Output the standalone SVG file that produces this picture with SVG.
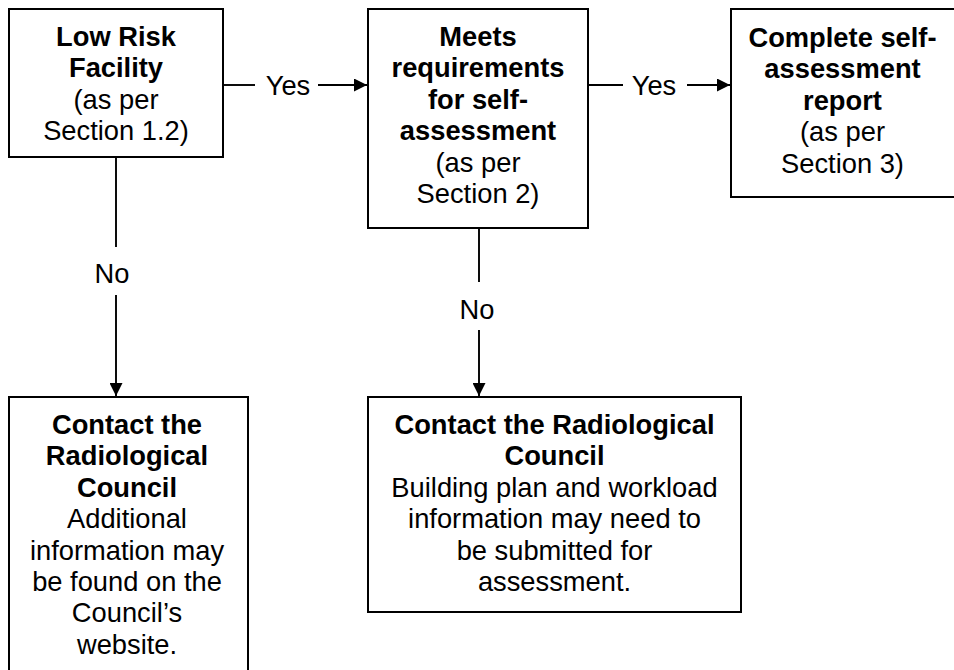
<svg xmlns="http://www.w3.org/2000/svg" width="954" height="670" viewBox="0 0 954 670">
  <style>
    .box { fill: #ffffff; stroke: #000000; stroke-width: 2; }
    .t { font-family: "Liberation Sans", Arial, sans-serif; font-size: 27.3px; fill: #000000; text-anchor: middle; }
    .b { font-weight: bold; }
    .ln { stroke: #000000; stroke-width: 1.9; fill: none; }
  </style>
  <defs>
    <marker id="arr" viewBox="0 0 13 13" refX="13" refY="6.5" markerWidth="13" markerHeight="13" markerUnits="userSpaceOnUse" orient="auto">
      <path d="M0,0 L13,6.5 L0,13 Z" fill="#000000"/>
    </marker>
  </defs>
  <rect width="954" height="670" fill="#ffffff"/>

  <g id="connectors">
    <line class="ln" x1="223" y1="85" x2="255" y2="85"/>
    <text class="t" x="288" y="95">Yes</text>
    <line class="ln" x1="318" y1="85" x2="367" y2="85" marker-end="url(#arr)"/>

    <line class="ln" x1="588" y1="85" x2="623" y2="85"/>
    <text class="t" x="654" y="95">Yes</text>
    <line class="ln" x1="687" y1="85" x2="730" y2="85" marker-end="url(#arr)"/>

    <line class="ln" x1="116" y1="157" x2="116" y2="247"/>
    <text class="t" x="112" y="283">No</text>
    <line class="ln" x1="116" y1="295" x2="116" y2="396" marker-end="url(#arr)"/>

    <line class="ln" x1="479" y1="228" x2="479" y2="282"/>
    <text class="t" x="477" y="319">No</text>
    <line class="ln" x1="479" y1="330" x2="479" y2="396" marker-end="url(#arr)"/>
  </g>

  <g id="low-risk">
    <rect class="box" x="9" y="9" width="214" height="148"/>
    <text class="t b" x="116" y="46">Low Risk</text>
    <text class="t b" x="116" y="77.4">Facility</text>
    <text class="t" x="116" y="108.8">(as per</text>
    <text class="t" x="116" y="140.2">Section 1.2)</text>
  </g>

  <g id="meets-requirements">
    <rect class="box" x="368" y="9" width="220" height="219"/>
    <text class="t b" x="478" y="46">Meets</text>
    <text class="t b" x="478" y="77.4">requirements</text>
    <text class="t b" x="478" y="108.8">for self-</text>
    <text class="t b" x="478" y="140.2">assessment</text>
    <text class="t" x="478" y="171.6">(as per</text>
    <text class="t" x="478" y="203">Section 2)</text>
  </g>

  <g id="complete-report">
    <rect class="box" x="731" y="9" width="224" height="188"/>
    <text class="t b" x="842.5" y="47">Complete self-</text>
    <text class="t b" x="842.5" y="78.4">assessment</text>
    <text class="t b" x="842.5" y="109.8">report</text>
    <text class="t" x="842.5" y="141.2">(as per</text>
    <text class="t" x="842.5" y="172.6">Section 3)</text>
  </g>

  <g id="contact-left">
    <rect class="box" x="9" y="397" width="239" height="290"/>
    <text class="t b" x="127" y="434">Contact the</text>
    <text class="t b" x="127" y="465.4">Radiological</text>
    <text class="t b" x="127" y="496.8">Council</text>
    <text class="t" x="127" y="528.2">Additional</text>
    <text class="t" x="127" y="559.6">information may</text>
    <text class="t" x="127" y="591">be found on the</text>
    <text class="t" x="127" y="622.4">Council’s</text>
    <text class="t" x="127" y="653.8">website.</text>
  </g>

  <g id="contact-middle">
    <rect class="box" x="368" y="397" width="373" height="215"/>
    <text class="t b" x="554.5" y="434">Contact the Radiological</text>
    <text class="t b" x="554.5" y="465.4">Council</text>
    <text class="t" x="554.5" y="496.8">Building plan and workload</text>
    <text class="t" x="554.5" y="528.2">information may need to</text>
    <text class="t" x="554.5" y="559.6">be submitted for</text>
    <text class="t" x="554.5" y="591">assessment.</text>
  </g>
</svg>
